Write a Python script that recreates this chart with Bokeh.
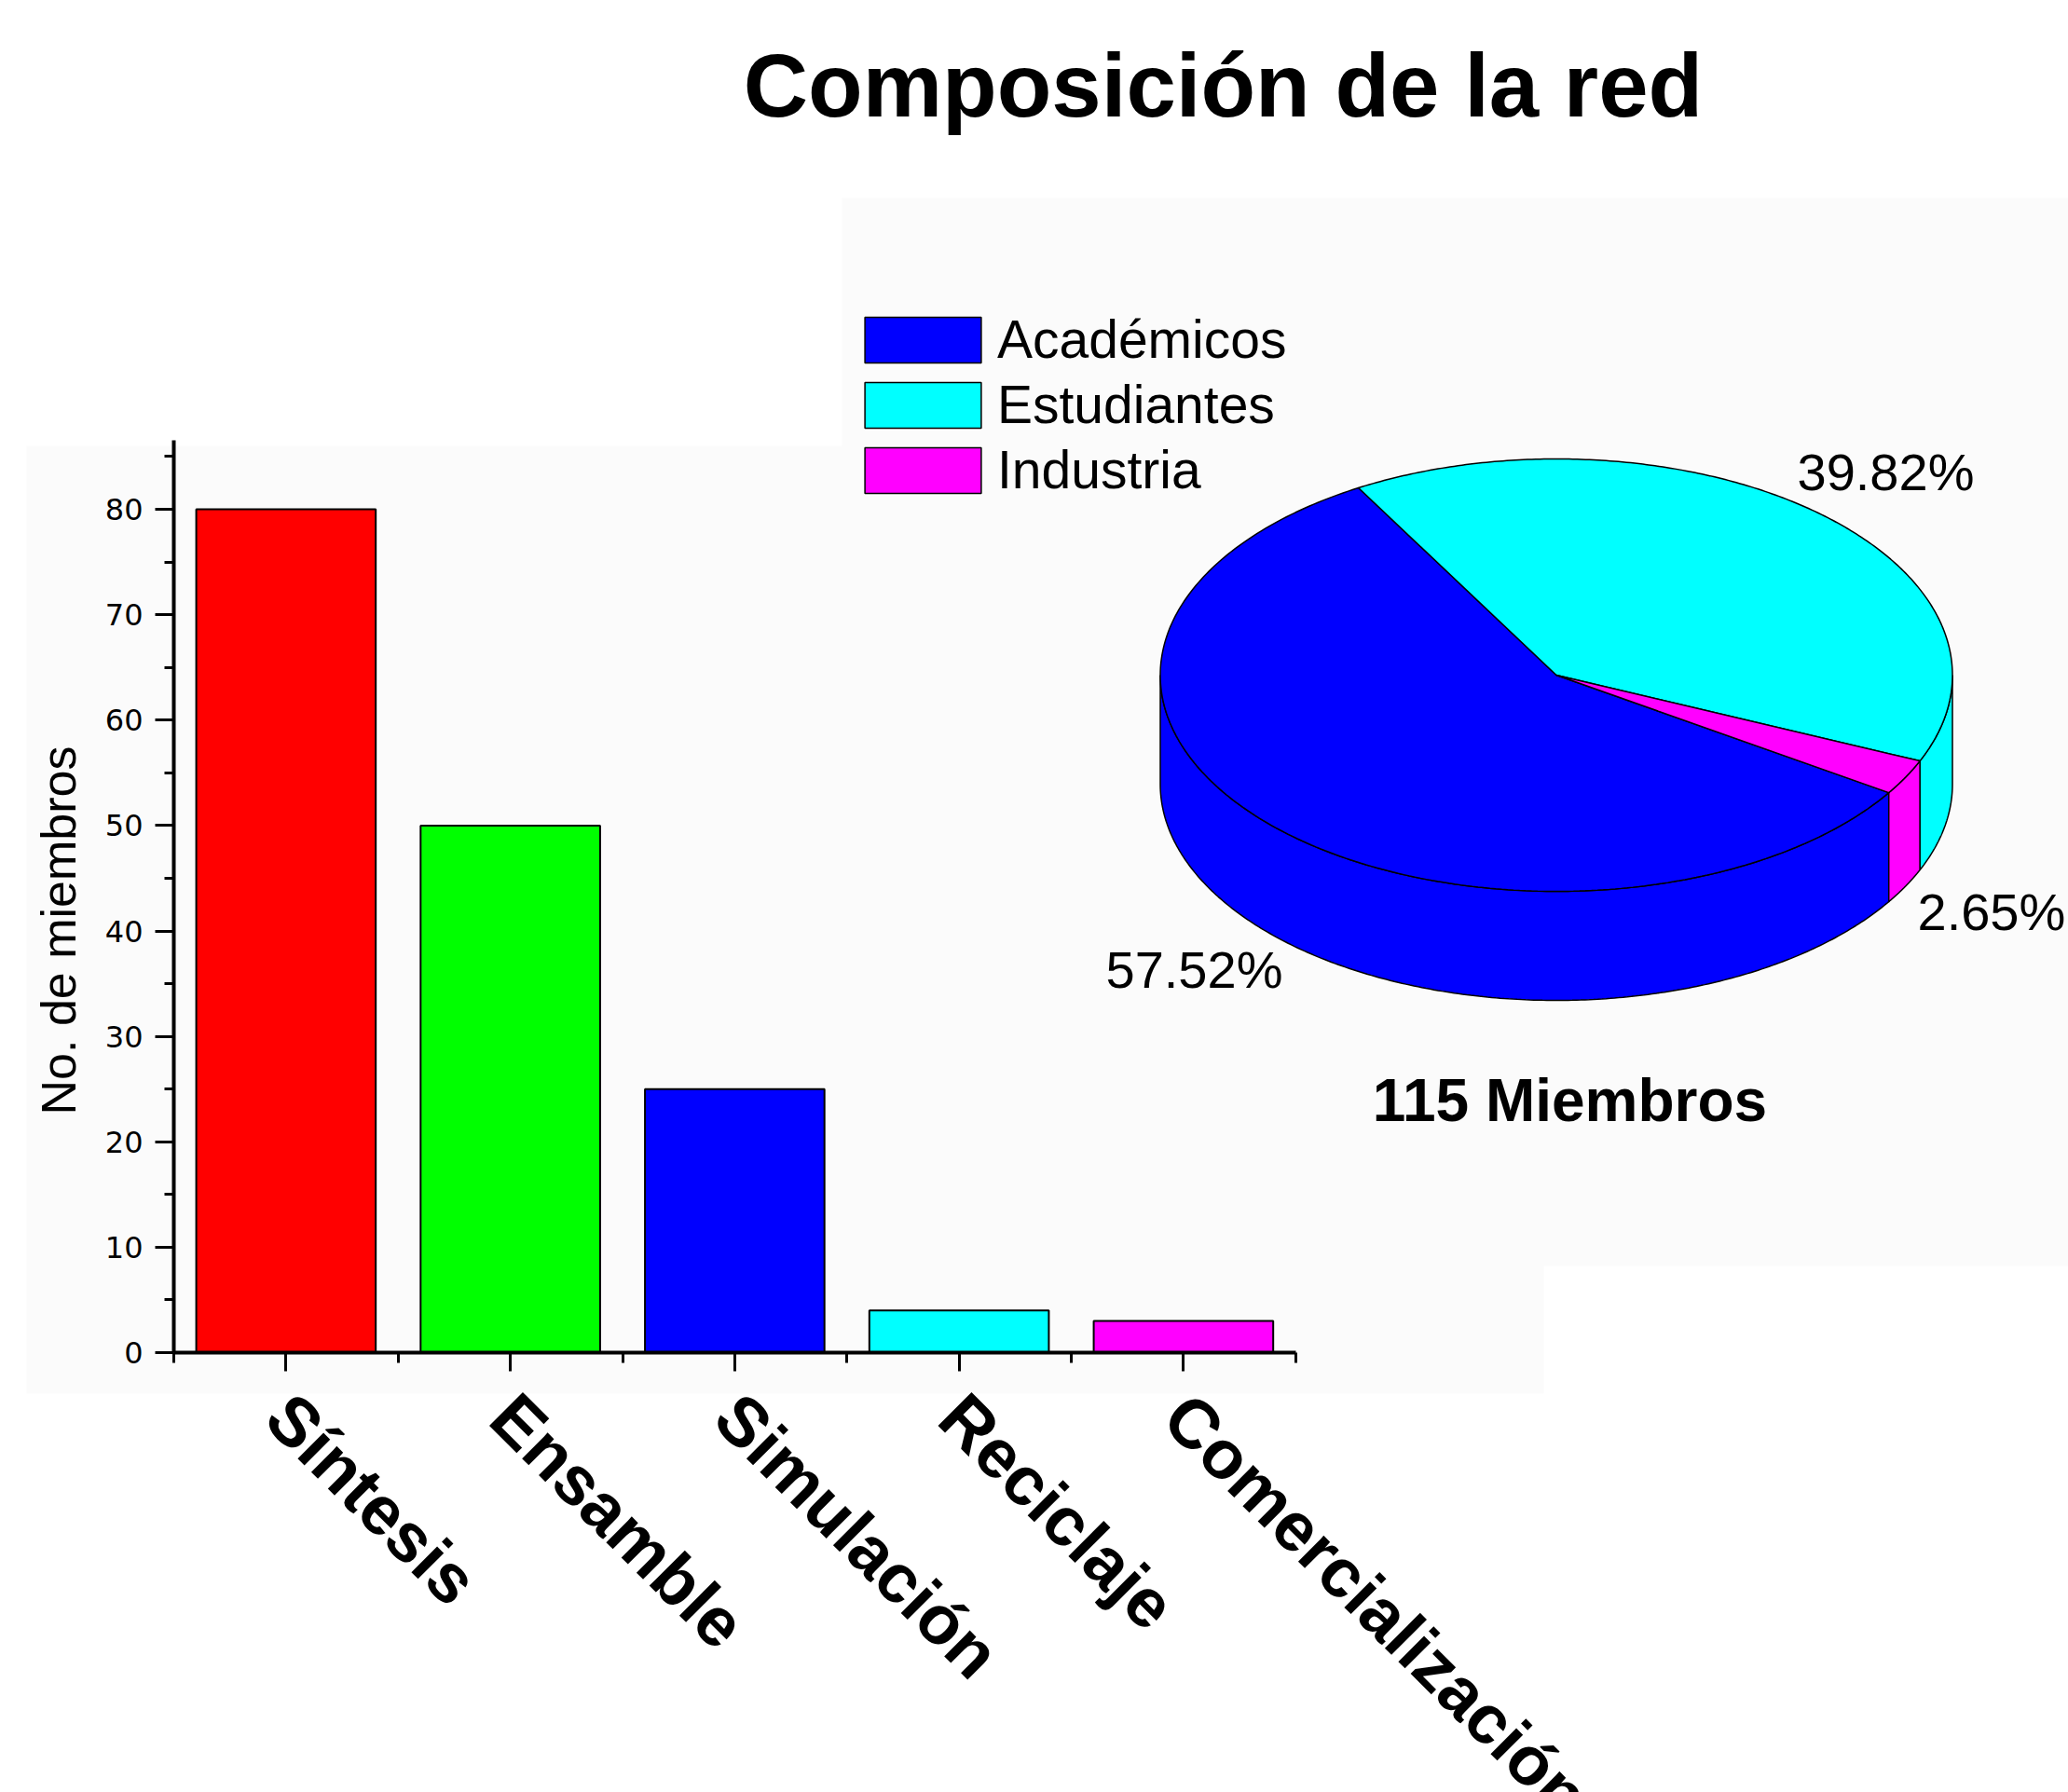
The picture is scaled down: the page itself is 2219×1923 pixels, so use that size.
import numpy as np
from bokeh.plotting import figure
from bokeh.models import Range1d, FixedTicker, ColumnDataSource, Label, BoxAnnotation
from bokeh.core.properties import value
from bokeh.embed import file_html
from bokeh.resources import INLINE

# ---------------- data ----------------
title_text = "Composición de la red"
y_label_text = "No. de miembros"
categories = ["Síntesis", "Ensamble", "Simulación", "Reciclaje", "Comercialización"]
members = [80, 50, 25, 4, 3]
bar_colors = ["#ff0000", "#00ff00", "#0000ff", "#00ffff", "#ff00ff"]
y_major_ticks = [0, 10, 20, 30, 40, 50, 60, 70, 80]
y_minor_ticks = [5, 15, 25, 35, 45, 55, 65, 75, 85]

pie_names = ["Académicos", "Estudiantes", "Industria"]
pie_percent = [57.52, 39.82, 2.65]
pie_colors = ["#0000ff", "#00ffff", "#ff00ff"]
total_members = 115

# ---------------- layout ----------------
W, H = 2219, 1923
AX_X, AX_Y = 186.0, 1451.0     # pixel position of the bar chart origin
PX_X, PX_Y = 240.75, 11.3125   # px per category / per member
FONT = "Liberation Sans"


def dx(px):  # canvas pixel -> main x data
    return (px - AX_X) / PX_X


def dy(py):  # canvas pixel -> main y data
    return (AX_Y - py) / PX_Y


# pie projection (unit circle -> ellipse via its own ranges)
PCX, PCY, RX, RY, DEPTH_PX = 1669.5, 724.0, 425.0, 232.0, 117.0
DEPTH = DEPTH_PX / RY
START_DEG = -32.93  # pie drawn clockwise from here

p = figure(width=W, height=H,
           x_range=Range1d(dx(0), dx(W)), y_range=Range1d(dy(H), dy(0)),
           output_backend="svg", toolbar_location=None, min_border=0)
p.title.visible = False
p.outline_line_color = None
p.xgrid.visible = False
p.ygrid.visible = False
p.background_fill_color = "white"
p.border_fill_color = "white"

# faint panel backgrounds
for (l, r, t, b) in [(28, 1656, 478, 1495), (903, 2219, 212, 1358)]:
    p.add_layout(BoxAnnotation(left=dx(l), right=dx(r), top=dy(t), bottom=dy(b),
                               fill_color="#fbfbfb", fill_alpha=1.0, line_color=None,
                               level="underlay"))

p.extra_x_ranges = {"pie": Range1d((0 - PCX) / RX, (W - PCX) / RX)}
p.extra_y_ranges = {"pie": Range1d(-(H - PCY) / RY, PCY / RY)}

# ---------------- bars ----------------
xpos = [i + 0.5 for i in range(len(categories))]
bar_src = ColumnDataSource(dict(x=xpos, top=members, color=bar_colors,
                                y0=[0] * len(categories), name=categories))
p.vbar(x="x", top="top", width=0.8, fill_color="color", line_color="black",
       line_width=2, source=bar_src)

# category labels, rotated below the axis
p.text(x="x", y="y0", text="name", source=bar_src, angle=-np.pi / 4,
       x_offset=-8, y_offset=57, text_align="left", text_baseline="middle",
       text_font=value(FONT), text_font_style="bold", text_font_size="74px",
       text_color="black")

xa = p.xaxis[0]
xa.fixed_location = 0
xa.ticker = FixedTicker(ticks=xpos, minor_ticks=list(range(len(categories) + 1)))
xa.bounds = (0, len(categories))
xa.major_label_overrides = {v: "" for v in xpos}
xa.axis_line_width = 4
xa.major_tick_line_width = 3
xa.minor_tick_line_width = 3
xa.major_tick_out = 20
xa.major_tick_in = 0
xa.minor_tick_out = 11
xa.minor_tick_in = 0

ya = p.yaxis[0]
ya.fixed_location = 0
ya.ticker = FixedTicker(ticks=y_major_ticks, minor_ticks=y_minor_ticks)
ya.bounds = (0, 86.5)
ya.axis_line_width = 4
ya.major_tick_line_width = 3
ya.minor_tick_line_width = 3
ya.major_tick_out = 20
ya.major_tick_in = 0
ya.minor_tick_out = 10
ya.minor_tick_in = 0
ya.major_label_text_font = "DejaVu Sans"
ya.major_label_text_font_size = "32px"
ya.major_label_text_color = "black"
ya.major_label_standoff = 13

p.add_layout(Label(x=dx(62), y=dy(998), text=y_label_text, angle=np.pi / 2,
                   text_align="center", text_baseline="middle",
                   text_font=FONT, text_font_size="52px", text_color="black"))

p.add_layout(Label(x=dx(1312), y=dy(91), text=title_text,
                   text_align="center", text_baseline="middle",
                   text_font=FONT, text_font_style="bold",
                   text_font_size="96px", text_color="black"))

# ---------------- 3D pie ----------------
pct = np.array(pie_percent, dtype=float)
spans = pct / pct.sum() * 360.0
hi_edges = START_DEG - np.concatenate([[0], np.cumsum(spans)[:-1]])
lo_edges = hi_edges - spans

top_xs, top_ys, side_xs, side_ys, side_cols = [], [], [], [], []
for lo, hi, col in zip(lo_edges, hi_edges, pie_colors):
    t = np.radians(np.linspace(lo, hi, 240))
    top_xs.append(np.concatenate([[0.0], np.cos(t), [0.0]]))
    top_ys.append(np.concatenate([[0.0], np.sin(t), [0.0]]))
    for k in range(-3, 3):
        a, b = max(lo, 180 + 360 * k), min(hi, 360 + 360 * k)
        if b > a:
            ts = np.radians(np.linspace(a, b, 240))
            side_xs.append(np.concatenate([np.cos(ts), np.cos(ts)[::-1]]))
            side_ys.append(np.concatenate([np.sin(ts), (np.sin(ts) - DEPTH)[::-1]]))
            side_cols.append(col)

p.patches(side_xs, side_ys, fill_color=side_cols, line_color="black",
          line_width=1.5, x_range_name="pie", y_range_name="pie")
top_src = ColumnDataSource(dict(xs=top_xs, ys=top_ys, color=pie_colors, name=pie_names))
p.patches("xs", "ys", fill_color="color", line_color="black", line_width=1.5,
          source=top_src, legend_field="name", x_range_name="pie", y_range_name="pie")

leg = p.legend[0]
leg.location = (912, H - 537)
leg.glyph_width = 156
leg.glyph_height = 61
leg.label_standoff = 2
leg.spacing = 4
leg.padding = 0
leg.margin = 0
leg.border_line_alpha = 0
leg.background_fill_alpha = 0
leg.label_text_font = FONT
leg.label_text_font_size = "57px"
leg.label_text_color = "black"

pct_pos = [(1186, 1040), (1928, 506), (2057, 978)]
for v, (px, py) in zip(pie_percent, pct_pos):
    p.add_layout(Label(x=dx(px), y=dy(py), text=f"{v:.2f}%",
                       text_align="left", text_baseline="middle",
                       text_font=FONT, text_font_size="56px", text_color="black"))

p.add_layout(Label(x=dx(1684), y=dy(1180), text=f"{total_members} Miembros",
                   text_align="center", text_baseline="middle",
                   text_font=FONT, text_font_style="bold",
                   text_font_size="64px", text_color="black"))

open("out.html", "w").write(file_html(p, INLINE))
